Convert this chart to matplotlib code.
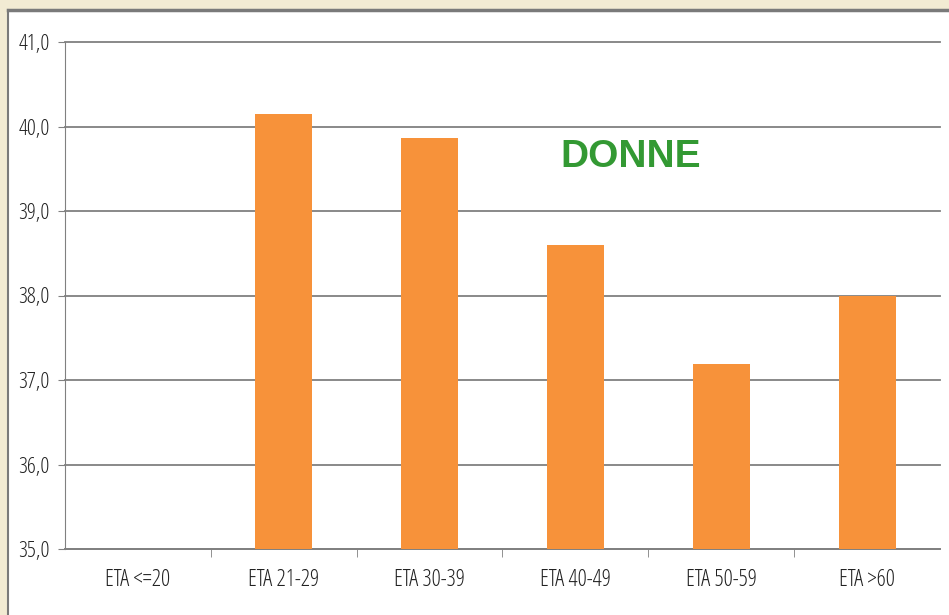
import matplotlib
matplotlib.use("Agg")
import matplotlib.pyplot as plt
import numpy as np

categories = ["ETA <=20", "ETA 21-29", "ETA 30-39", "ETA 40-49", "ETA 50-59", "ETA >60"]
values = [np.nan, 40.15, 39.86, 38.6, 37.19, 38.0]
yticks = [35.0, 36.0, 37.0, 38.0, 39.0, 40.0, 41.0]
title = "DONNE"

W, H = 949, 615
fig = plt.figure(figsize=(W / 100, H / 100), dpi=100)
fig.patch.set_facecolor("#F2EBD3")

# white panel as background axes
bg = fig.add_axes([8 / W, 0, 1 - 8 / W, 1 - 10 / H], zorder=-5)
bg.set_facecolor("white")
bg.set_xticks([])
bg.set_yticks([])
for s in ["right", "bottom"]:
    bg.spines[s].set_visible(False)
bg.spines["top"].set_color("#7a7a7a")
bg.spines["top"].set_linewidth(2.5)
bg.spines["left"].set_color("#7a7a7a")
bg.spines["left"].set_linewidth(1.5)

tick_font = dict(family=["Open Sans", "DejaVu Sans"], stretch="condensed")

ax = fig.add_axes([65 / W, 1 - 549 / H, (940 - 65) / W, (549 - 42) / H], zorder=1)
ax.set_facecolor("none")
x = np.arange(len(categories))
ax.bar(x, np.nan_to_num(values, nan=0.0), width=0.39, color="#F7923A", zorder=3)
ax.set_xlim(-0.5, len(categories) - 0.5)
ax.set_ylim(35, 41)
ax.set_yticks(yticks)
ax.set_yticklabels([f"{v:.1f}".replace(".", ",") for v in yticks],
                   fontsize=16, color="#222222", **tick_font)
ax.set_xticks(x)
ax.set_xticklabels(categories, fontsize=16.5, color="#222222", **tick_font)
ax.tick_params(axis="x", length=0, pad=14)
ax.tick_params(axis="y", length=5, color="#808080", pad=6)
ax.set_xticks(np.arange(0.5, len(categories) - 0.5, 1.0), minor=True)
ax.tick_params(axis="x", which="minor", length=6, color="#808080", direction="out")
ax.yaxis.grid(True, color="#808080", lw=1.3, zorder=1)
for gl in ax.get_ygridlines():
    gl.set_clip_on(False)
ax.set_axisbelow(True)
for s in ["top", "right"]:
    ax.spines[s].set_visible(False)
ax.spines["left"].set_color("#808080")
ax.spines["bottom"].set_color("#808080")
ax.spines["bottom"].set_linewidth(1.3)

ax.text(0.646, 0.773, title, transform=ax.transAxes, ha="center", va="center",
        fontsize=28, fontweight="bold", color="#339933",
        family=["Liberation Sans", "DejaVu Sans"])

fig.savefig("out.png", dpi=100, facecolor=fig.get_facecolor())
